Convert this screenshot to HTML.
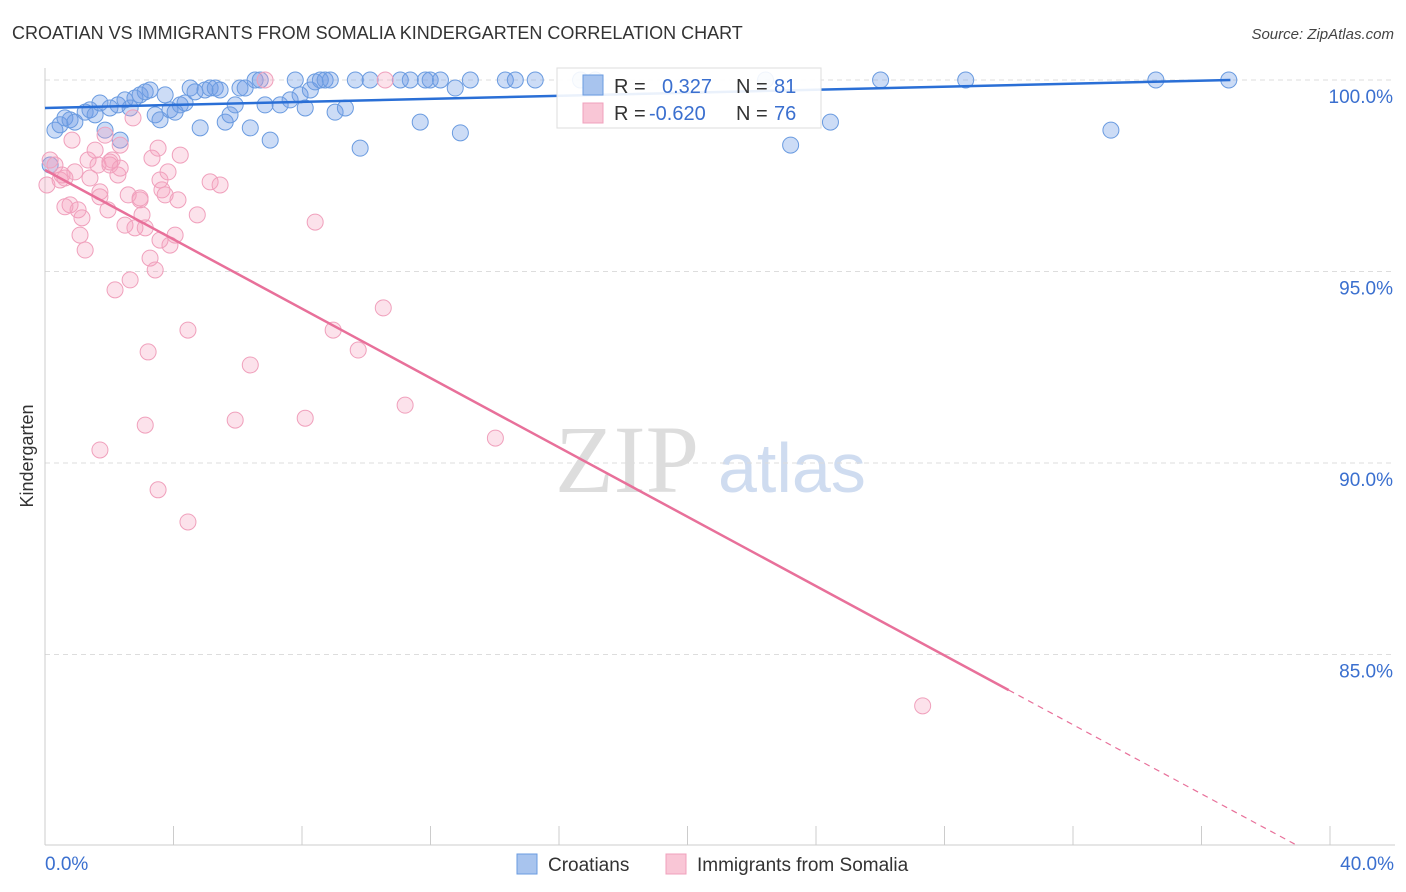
<!DOCTYPE html>
<html><head><meta charset="utf-8"><style>
body{margin:0;background:#fff;font-family:"Liberation Sans",sans-serif;}
#wrap{position:relative;width:1406px;height:892px;overflow:hidden;}
</style></head><body>
<div id="wrap">
<svg id="svg" width="1406" height="892">
<text x="12" y="39" font-size="18" fill="#333">CROATIAN VS IMMIGRANTS FROM SOMALIA KINDERGARTEN CORRELATION CHART</text>
<text x="1394" y="39" font-size="15" fill="#444" font-style="italic" text-anchor="end">Source: ZipAtlas.com</text>
<text x="555" y="492" font-size="96" fill="#ddd" font-family="Liberation Serif,serif">ZIP</text>
<text x="718" y="492" font-size="70" fill="#cfdcf0">atlas</text>
<text transform="translate(33,456) rotate(-90)" font-size="18" fill="#333" text-anchor="middle">Kindergarten</text>
<g id="grid"></g><g id="ticks"></g><g id="pts"></g><g id="lines"></g>
<g>
<rect x="557" y="68" width="264" height="60" fill="#fff" fill-opacity="0.9" stroke="#ddd"/>
<rect x="583" y="75" width="20" height="20" fill="#a8c4ee" stroke="#6a9be0"/>
<rect x="583" y="103" width="20" height="20" fill="#f9c6d6" stroke="#f0a0bc"/>
<text x="614" y="93" font-size="20" fill="#333">R = </text><text x="662" y="93" font-size="20" fill="#3a6fcf">0.327</text>
<text x="736" y="93" font-size="20" fill="#333">N = </text><text x="774" y="93" font-size="20" fill="#3a6fcf">81</text>
<text x="614" y="120" font-size="20" fill="#333">R = </text><text x="649" y="120" font-size="20" fill="#3a6fcf">-0.620</text>
<text x="736" y="120" font-size="20" fill="#333">N = </text><text x="774" y="120" font-size="20" fill="#3a6fcf">76</text>
</g>
<g>
<rect x="517" y="854" width="20" height="20" fill="#a8c4ee" stroke="#6a9be0"/>
<text x="548" y="871" font-size="19" fill="#333">Croatians</text>
<rect x="666" y="854" width="20" height="20" fill="#f9c6d6" stroke="#f0a0bc"/>
<text x="697" y="871" font-size="19" fill="#333">Immigrants from Somalia</text>
</g>
</svg>
</div>
<script>
const blueX=[0.16,0.31,0.47,0.62,0.78,0.93,1.25,1.40,1.56,1.71,1.87,2.02,2.27,2.34,2.49,2.65,2.80,2.96,3.12,3.27,3.43,3.58,3.74,3.89,4.05,4.21,4.36,4.52,4.67,4.83,4.98,5.14,5.30,5.45,5.61,5.76,5.92,6.07,6.23,6.39,6.54,6.70,6.85,7.01,7.32,7.63,7.79,7.94,8.10,8.26,8.41,8.57,8.72,8.88,9.03,9.35,9.66,9.81,10.12,11.06,11.37,11.68,11.84,11.99,12.31,12.77,12.93,13.24,14.33,14.64,15.26,16.67,17.13,22.43,23.21,24.45,26.01,28.66,33.18,34.58,36.85];
const blueY=[97.78,98.69,98.83,99.01,98.96,98.90,99.16,99.22,99.09,99.40,98.69,99.27,99.35,98.43,99.48,99.27,99.53,99.61,99.69,99.74,99.09,98.96,99.61,99.22,99.16,99.35,99.40,99.79,99.69,98.75,99.74,99.79,99.79,99.74,98.90,99.09,99.35,99.79,99.79,98.75,100,100,99.35,98.43,99.35,99.48,100,99.61,99.27,99.74,99.95,100,100,100,99.16,99.27,100,98.22,100,100,100,98.90,100,100,100,99.79,98.62,100,100,100,100,100,100,100,98.30,98.90,100,100,98.69,100,100];
const pinkX=[0.06,0.16,0.31,0.47,0.53,0.62,0.78,0.84,0.93,1.03,1.09,1.15,1.25,1.34,1.40,1.56,1.65,1.71,1.87,1.96,2.02,2.09,2.18,2.27,2.34,2.49,2.59,2.65,2.74,2.80,2.96,3.02,3.12,3.21,3.27,3.33,3.43,3.52,3.58,3.64,3.74,3.83,3.89,4.05,4.14,4.21,3.52,4.45,4.45,4.74,5.14,5.45,5.92,6.39,6.85,8.10,8.41,8.97,9.75,10.53,10.59,11.21,14.02,27.32,1.71,3.12,0.62,1.71,2.02,2.34,2.96,3.58];
const pinkY=[97.26,97.91,97.78,97.39,97.52,97.44,96.74,98.43,97.60,96.61,95.95,96.40,95.56,97.91,97.44,98.17,97.78,97.08,98.56,96.61,97.78,97.91,94.52,97.52,98.30,96.21,97.00,94.78,99.01,96.14,96.87,96.48,96.14,92.90,95.35,97.96,95.04,98.22,97.39,97.13,97.00,97.60,95.69,95.95,96.87,98.04,89.30,93.47,88.46,96.48,97.34,97.26,91.12,92.56,100,91.17,96.29,93.47,92.95,94.05,100,91.51,90.65,83.66,90.34,90.99,96.69,96.95,97.86,97.70,96.92,95.82];
const yTicks=[100,95,90,85];
const xTickVals=[0,4,8,12,16,20,24,28,32,36,40];
const blueLine=[[0,99.27],[36.9,100]];
const pinkLine=[[0,97.65],[30,84.07],[38.9,80.05]];
const NS="http://www.w3.org/2000/svg";
const sx=v=>45+v*32.125, sy=v=>80+(100-v)*38.3;
function mk(t,p,a){const e=document.createElementNS(NS,t);for(const k in a)e.setAttribute(k,a[k]);p.appendChild(e);return e;}
const grid=document.getElementById('grid'),ticks=document.getElementById('ticks'),pts=document.getElementById('pts'),lines=document.getElementById('lines');
yTicks.forEach(v=>{
 const l=mk('line',grid,{x1:45,x2:1395,y1:sy(v),y2:sy(v),stroke:'#ddd','stroke-dasharray':'5,4'});
 
 
 const t=mk('text',ticks,{x:1393,y:sy(v)+23,'font-size':19,fill:'#3a6fcf','text-anchor':'end'});
 t.textContent=v.toFixed(1)+'%';
 
 
});
const ax=mk('line',ticks,{x1:45,x2:1395,y1:845,y2:845,stroke:'#ccc'});


const ay=mk('line',ticks,{x1:45,x2:45,y1:68,y2:845,stroke:'#ccc'});


xTickVals.forEach(v=>{
 const l=mk('line',ticks,{x1:sx(v),x2:sx(v),y1:826,y2:845,stroke:'#ccc'});
 
 
});
[[0,'0.0%','start',45],[40,'40.0%','end',1394]].forEach(([v,s,a,x])=>{
 const t=mk('text',ticks,{x:x,y:870,'font-size':19,fill:'#3a6fcf','text-anchor':a});
 t.textContent=s;
 
 
});
blueX.forEach((x,i)=>{
 const c=mk('circle',pts,{cx:sx(x),cy:sy(blueY[i]),r:8,fill:'rgba(110,155,230,0.35)',stroke:'#6a9be0','stroke-width':1});
 
 
});
pinkX.forEach((x,i)=>{
 const c=mk('circle',pts,{cx:sx(x),cy:sy(pinkY[i]),r:8,fill:'rgba(245,160,190,0.3)',stroke:'#f0a0bc','stroke-width':1});
 
 
});
const bl=mk('line',lines,{x1:sx(blueLine[0][0]),y1:sy(blueLine[0][1]),x2:sx(blueLine[1][0]),y2:sy(blueLine[1][1]),stroke:'#2a6fd6','stroke-width':2.5});


const pl=mk('line',lines,{x1:sx(pinkLine[0][0]),y1:sy(pinkLine[0][1]),x2:sx(pinkLine[1][0]),y2:sy(pinkLine[1][1]),stroke:'#e8709a','stroke-width':2.5});


const pd=mk('line',lines,{x1:sx(pinkLine[1][0]),y1:sy(pinkLine[1][1]),x2:sx(pinkLine[2][0]),y2:sy(pinkLine[2][1]),stroke:'#e8709a','stroke-width':1.2,'stroke-dasharray':'6,5'});


</script>
</body></html>
